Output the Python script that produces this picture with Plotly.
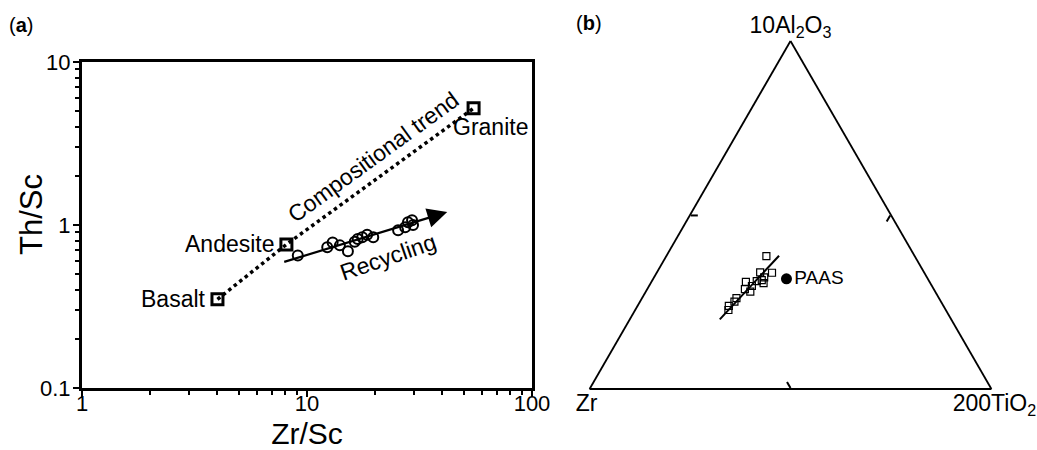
import numpy as np
import plotly.graph_objects as go

# ---------------- Panel (a) data ----------------
end_names = ["Basalt", "Andesite", "Granite"]
end_zr_sc = [4.0, 8.1, 55.0]
end_th_sc = [0.35, 0.76, 5.2]

sample_zr_sc = [9.1, 12.3, 13.0, 14.0, 15.2, 16.3, 16.8, 17.6, 18.5, 19.7,
                25.4, 27.3, 28.1, 29.3, 29.6]
sample_th_sc = [0.65, 0.73, 0.78, 0.75, 0.69, 0.79, 0.82, 0.84, 0.87, 0.84,
                0.93, 0.97, 1.04, 1.07, 1.00]

recycling_start = [7.8, 0.59]   # Zr/Sc, Th/Sc
recycling_end = [42.0, 1.2]

x_tick_vals = [1, 10, 100]
x_tick_text = ["1", "10", "100"]
y_tick_vals = [0.1, 1, 10]
y_tick_text = ["0.1", "1", "10"]

# ---------------- Panel (b) data (ternary) ----------------
tern_al = [38.2, 33.5, 33.4, 32.1, 30.8, 31.0, 31.3, 29.6, 28.7, 28.0, 26.1, 25.1, 23.9, 22.7, 30.4]
tern_zr = [36.9, 40.8, 37.9, 40.5, 45.7, 42.9, 41.5, 44.8, 47.0, 46.0, 50.4, 51.4, 53.4, 54.1, 41.5]
tern_ti = [24.9, 25.7, 28.7, 27.4, 23.5, 26.1, 27.2, 25.6, 24.3, 26.0, 23.5, 23.5, 22.7, 23.2, 28.1]

trend_al = [20.0, 38.3]
trend_zr = [57.6, 33.7]
trend_ti = [22.4, 28.0]

paas_al = [189]   # 10*Al2O3
paas_zr = [210]   # Zr
paas_ti = [198]   # 200*TiO2

FONT = "Liberation Sans, Arial, sans-serif"
W, H = 1037, 450

fig = go.Figure()

# Compositional trend (dotted)
fig.add_trace(go.Scatter(
    x=end_zr_sc, y=end_th_sc, mode="lines",
    line=dict(color="black", width=3.5, dash="dot"),
    showlegend=False, hoverinfo="skip"))
# end-member squares
fig.add_trace(go.Scatter(
    x=end_zr_sc, y=end_th_sc, mode="markers",
    marker=dict(symbol="square-open", size=11, color="black", line=dict(width=3)),
    showlegend=False))
# samples
fig.add_trace(go.Scatter(
    x=sample_zr_sc, y=sample_th_sc, mode="markers",
    marker=dict(symbol="circle-open", size=10, color="black", line=dict(width=2)),
    showlegend=False))

minor_vals = [m * 10.0 ** e for e in (-1, 0, 1) for m in range(2, 10)]

fig.update_layout(
    width=W, height=H,
    margin=dict(l=0, r=0, t=0, b=0, pad=0, autoexpand=False),
    paper_bgcolor="white", plot_bgcolor="white",
    font=dict(family=FONT, color="black", size=20),
    showlegend=False,
    xaxis=dict(
        type="log", range=[0, 2], domain=[82 / W, 532 / W], automargin=False,
        tickmode="array", tickvals=x_tick_vals, ticktext=x_tick_text,
        ticks="outside", ticklen=6, tickwidth=2, tickcolor="black",
        ticklabelstandoff=-12,
        minor=dict(tickvals=minor_vals, ticks="outside", ticklen=4, tickwidth=1.5,
                   tickcolor="black", showgrid=False),
        showline=True, linewidth=3, linecolor="black", mirror=True,
        showgrid=False, zeroline=False,
        tickfont=dict(size=22),
        title=dict(text="Zr/Sc", font=dict(size=30), standoff=18),
    ),
    yaxis=dict(
        type="log", range=[-1, 1], domain=[1 - 388 / H, 1 - 62 / H], automargin=False,
        tickmode="array", tickvals=y_tick_vals, ticktext=y_tick_text,
        ticks="outside", ticklen=6, tickwidth=2, tickcolor="black",
        ticklabelstandoff=-2,
        minor=dict(tickvals=minor_vals, ticks="outside", ticklen=4, tickwidth=1.5,
                   tickcolor="black", showgrid=False),
        showline=True, linewidth=3, linecolor="black", mirror=True,
        showgrid=False, zeroline=False,
        tickfont=dict(size=22),
    ),
)

LBL = 23
annotations = []
# y-axis title
annotations.append(dict(x=31 / W, y=1 - 215 / H, xref="paper", yref="paper",
                        text="Th/Sc", showarrow=False, textangle=-90,
                        xanchor="center", yanchor="middle", font=dict(size=31)))
# end-member labels
annotations.append(dict(x=np.log10(end_zr_sc[0]), y=np.log10(end_th_sc[0]), xref="x", yref="y",
                        text=end_names[0], showarrow=False, xanchor="right", yanchor="middle",
                        xshift=-9, font=dict(size=LBL)))
annotations.append(dict(x=np.log10(end_zr_sc[1]), y=np.log10(end_th_sc[1]), xref="x", yref="y",
                        text=end_names[1], showarrow=False, xanchor="right", yanchor="middle",
                        xshift=-9, font=dict(size=LBL)))
annotations.append(dict(x=np.log10(end_zr_sc[2]), y=np.log10(end_th_sc[2]), xref="x", yref="y",
                        text=end_names[2], showarrow=False, xanchor="center", yanchor="middle",
                        xshift=17, yshift=-19, font=dict(size=LBL)))
annotations.append(dict(x=np.log10(19.7), y=np.log10(2.61), xref="x", yref="y",
                        text="Compositional trend", showarrow=False, textangle=-36,
                        font=dict(size=LBL)))
annotations.append(dict(x=np.log10(22.9), y=np.log10(0.64), xref="x", yref="y",
                        text="Recycling", showarrow=False, textangle=-19,
                        font=dict(size=LBL)))
# recycling arrow
annotations.append(dict(x=np.log10(recycling_end[0]), y=np.log10(recycling_end[1]),
                        ax=np.log10(recycling_start[0]), ay=np.log10(recycling_start[1]),
                        xref="x", yref="y", axref="x", ayref="y", text="",
                        showarrow=True, arrowhead=2, arrowsize=1.8, arrowwidth=2.2,
                        arrowcolor="black"))
# panel labels
annotations.append(dict(x=7 / W, y=1 - 25 / H, xref="paper", yref="paper", text="(<b>a</b>)",
                        showarrow=False, xanchor="left", yanchor="middle", font=dict(size=20)))
annotations.append(dict(x=574 / W, y=1 - 23 / H, xref="paper", yref="paper", text="(<b>b</b>)",
                        showarrow=False, xanchor="left", yanchor="middle", font=dict(size=20)))
fig.update_layout(annotations=annotations)

# ---------------- Panel (b) ternary ----------------
fig.add_trace(go.Scatterternary(
    a=trend_al, b=trend_zr, c=trend_ti, mode="lines",
    line=dict(color="black", width=2), subplot="ternary", showlegend=False))
fig.add_trace(go.Scatterternary(
    a=tern_al, b=tern_zr, c=tern_ti, mode="markers",
    marker=dict(symbol="square-open", size=7, color="black", line=dict(width=1.2)),
    subplot="ternary", showlegend=False))
fig.add_trace(go.Scatterternary(
    a=paas_al, b=paas_zr, c=paas_ti, mode="markers+text", text=["PAAS"],
    textposition="middle right", textfont=dict(size=19, color="black"),
    marker=dict(symbol="circle", size=11, color="black"),
    subplot="ternary", showlegend=False))


def tern_axis(title):
    return dict(showgrid=False, showticklabels=False, tickmode="array", tickvals=[0.5],
                ticks="inside", ticklen=7, tickwidth=1.5, tickcolor="black",
                showline=True, linecolor="black", linewidth=1.8,
                title=dict(text=title, font=dict(size=23)))


fig.update_layout(ternary=dict(
    domain=dict(x=[588 / W, 993 / W], y=[1 - 389 / H, 1 - 41 / H]),
    sum=1, bgcolor="white",
    aaxis=tern_axis("10Al<sub>2</sub>O<sub>3</sub>"),
    baxis=tern_axis("Zr"),
    caxis=tern_axis("200TiO<sub>2</sub>"),
))

fig.write_html("out.html")
